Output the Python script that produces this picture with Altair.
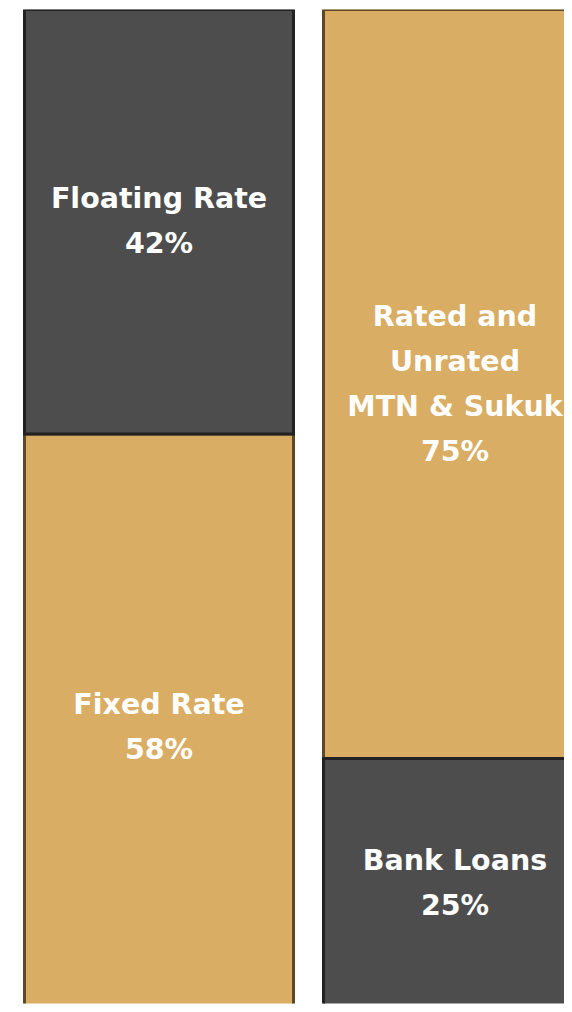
import altair as alt
import pandas as pd

# Left bar: interest-rate mix
left_segments = ["Fixed Rate", "Floating Rate"]
left_shares = [58, 42]
left_kinds = ["gold", "dark"]
left_order = [1, 2]

# Right bar: funding-source mix
right_segments = ["Rated and\nUnrated\nMTN & Sukuk", "Bank Loans"]
right_shares = [75, 25]
right_kinds = ["gold", "dark"]
right_order = [2, 1]

bars = ["left", "right"]
fill_domain = ["gold", "dark"]
fill_range = ["#d9ad63", "#4d4d4d"]
stroke_range = ["#5e4828", "#222222"]
LINE_H = 45

rows = []
for bar, segs, shares, kinds, order in [
    ("left", left_segments, left_shares, left_kinds, left_order),
    ("right", right_segments, right_shares, right_kinds, right_order),
]:
    for s, v, k, o in zip(segs, shares, kinds, order):
        label = f"{s}\n{v}%"
        rows.append({"bar": bar, "segment": s, "share": v, "kind": k, "order": o,
                     "label": label, "nlines": label.count("\n") + 1})
df = pd.DataFrame(rows)
# draw the dark segments last so their outline sits on top at the joins
df = df.sort_values("kind", key=lambda c: c.map({"gold": 0, "dark": 1}), kind="stable")

x = alt.X("bar:N", axis=None, sort=bars,
          scale=alt.Scale(domain=bars, range=[16.5, 584.5], paddingInner=30 / 299, paddingOuter=0))


def bar_layer(bar, ydomain, dx):
    base = alt.Chart(df).transform_filter(alt.datum.bar == bar).transform_stack(
        stack="share", groupby=["bar"], sort=[alt.SortField("order")], as_=["y0", "y1"]
    ).transform_calculate(mid="(datum.y0 + datum.y1) / 2")
    yscale = alt.Scale(domain=ydomain, nice=False, zero=False)
    rect = base.mark_rect(strokeWidth=3, clip=True).encode(
        x=x,
        y=alt.Y("y0:Q", axis=None, scale=yscale),
        y2="y1:Q",
        color=alt.Color("kind:N", scale=alt.Scale(domain=fill_domain, range=fill_range), legend=None),
        stroke=alt.Stroke("kind:N", scale=alt.Scale(domain=fill_domain, range=stroke_range), legend=None),
    )
    layers = [rect]
    for n in sorted(set(df.loc[df["bar"] == bar, "nlines"])):
        layers.append(
            base.transform_filter(alt.datum.nlines == int(n)).mark_text(
                color="white", font="DejaVu Sans", fontWeight="bold", fontSize=28.5,
                lineBreak="\n", lineHeight=LINE_H, align="center", baseline="middle",
                dx=dx, dy=-(int(n) - 1) * LINE_H / 2,
            ).encode(x=x, y=alt.Y("mid:Q", axis=None, scale=yscale), text="label:N")
        )
    return alt.layer(*layers)


chart = alt.layer(
    bar_layer("left", [1.65, 100], 0),
    bar_layer("right", [0.47, 100], -3),
).resolve_scale(y="independent").properties(
    width=556, height=994,
    padding={"left": 0, "top": 1.5, "right": 0, "bottom": 0},
    autosize=alt.AutoSizeParams(type="none"),
).configure_view(stroke=None)

chart.save("out.html", embed_options={"renderer": "svg", "actions": False})
